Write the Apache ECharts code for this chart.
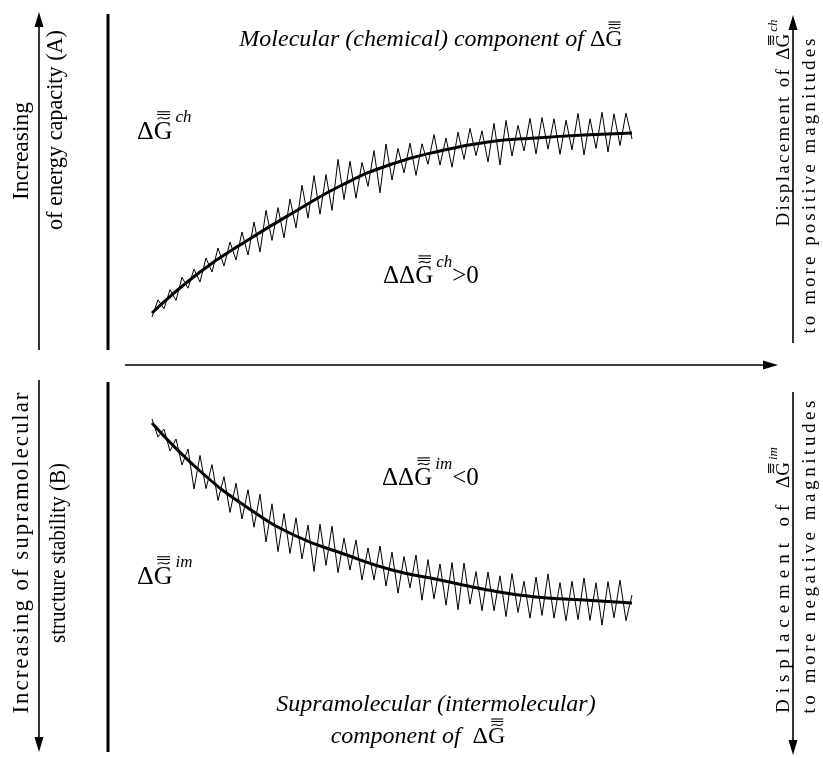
<!DOCTYPE html>
<html><head><meta charset="utf-8">
<script src="https://cdn.jsdelivr.net/npm/echarts@6/dist/echarts.min.js"></script>
<style>html,body{margin:0;padding:0;background:#fff}#c{width:823px;height:758px}</style>
</head><body><div id="c"></div>
<script>
// ---------- data ----------
const trendX = [0,10,20,30,40,50,60,70,80,90,100];
const chTrend = [3.5,24,40,54.5,68,78,84.5,89,91,92.5,93.5];
const imTrend = [-6.5,-30.5,-49,-63,-72,-80,-85,-90,-93.5,-95,-96.5];
const noiseX = [0,1.25,2.5,3.75,5,6.25,7.5,8.75,10,11.25,12.5,13.75,15,16.25,17.5,18.75,20,21.25,22.5,23.75,25,26.25,27.5,28.75,30,31.25,32.5,33.75,35,36.25,37.5,38.75,40,41.25,42.5,43.75,45,46.25,47.5,48.75,50,51.25,52.5,53.75,55,56.25,57.5,58.75,60,61.25,62.5,63.75,65,66.25,67.5,68.75,70,71.25,72.5,73.75,75,76.25,77.5,78.75,80,81.25,82.5,83.75,85,86.25,87.5,88.75,90,91.25,92.5,93.75,95,96.25,97.5,98.75,100];
const chNoise = [1.5,10.1,5.6,15.2,9.8,21.3,15.9,25.4,
 19,31,24,36,27,39,30,44,
 32.5,49,34,54.8,39.8,56.2,41.1,60.5,
 46.1,67.4,50.9,72.2,52.9,72.7,54.8,80.3,
 60.2,79.4,60.9,78.8,66.8,84.7,63.6,88,
 70,85.8,73.6,88.4,72.3,88.1,77.9,92.7,
 77.5,91,76.4,93.9,80.3,95.8,82.2,94.6,
 79,98.3,77.5,99.8,82,97.3,84.5,100.8,
 83,101.2,85.4,100.6,82.8,99.9,85.1,103.3,
 82.5,100.6,85.8,103.9,84,103.1,87.3,103.4,90.5];
const imNoise = [-4.5,-13.5,-9.5,-20.5,-14.5,-27.5,-19.5,-39.5,
 -22.7,-39.3,-27.3,-45.2,-33.3,-51.2,-36.6,-54.5,
 -39.9,-58.6,-42.1,-66,-46.9,-70.8,-51.7,-71.7,
 -53.9,-74.5,-57.5,-80.7,-57.1,-77.7,-58.1,-81.3,
 -64,-80,-65,-85,-69,-85,-68,-88,
 -71,-91.6,-73.3,-88.9,-72.5,-95.1,-74.8,-94.4,
 -77,-97.6,-76.3,-99.9,-76.5,-97.1,-80.8,-100.4,
 -81,-100.4,-82.9,-103.3,-81.8,-101.2,-85.6,-104.1,
 -83.5,-102.7,-81.9,-104.1,-86.3,-105.4,-85.6,-104.8,
 -84,-105.2,-86.4,-107.6,-85.8,-103.9,-85.1,-105.3,-92.5];

// ---------- text layout helpers ----------
const FAM = "'Liberation Serif','Times New Roman',serif";
const cx = document.createElement('canvas').getContext('2d');
function fnt(fs,it){return (it?'italic':'normal')+' normal '+fs+'px '+FAM;}
function meas(fs,it,s){cx.font=fnt(fs,it);cx.textBaseline='alphabetic';return cx.measureText(s).width;}
function met(fs,it){
  cx.font=fnt(fs,it);
  cx.textBaseline='alphabetic'; const a=cx.measureText('H').actualBoundingBoxAscent;
  cx.textBaseline='middle'; const b=cx.measureText('H').actualBoundingBoxAscent;
  cx.textBaseline='alphabetic';
  return {cap:a,k:a-b};
}
function accent(gx,top,u){
  const st={stroke:'#000',lineWidth:1.1,fill:null};
  return [
    {type:'bezierCurve',shape:{x1:gx-5.5*u,y1:top-2.4*u,cpx1:gx-2.5*u,cpy1:top-7*u,cpx2:gx+2*u,cpy2:top+0.5*u,x2:gx+5.5*u,y2:top-4.4*u},style:st},
    {type:'line',shape:{x1:gx-6*u,y1:top-6.8*u,x2:gx+6*u,y2:top-6.8*u},style:st},
    {type:'line',shape:{x1:gx-6*u,y1:top-9.3*u,x2:gx+6*u,y2:top-9.3*u},style:st}
  ];
}
function label(o){
  const base=o.base||24, supFs=o.sup||Math.round(base*0.67);
  const mm=met(base,false);
  const runs=[];
  o.pieces.forEach(p=>{
    const fs=p.sup?supFs:base, it=!!p.it, B=p.sup?-0.64*base:0;
    if(p.sp) Array.from(p.t).forEach(ch=>runs.push({t:ch,fs,it,B,sp:true}));
    else runs.push({t:p.t,fs,it,B,sp:false,acc:!!p.acc,gap:p.gap||0});
  });
  runs.forEach(r=>{r.w=meas(r.fs,r.it,r.t);});
  let W0=runs.reduce((a,r)=>a+r.w+(r.gap||0),0);
  let nsp=runs.filter(r=>r.sp).length; if(runs[runs.length-1].sp) nsp--;
  let extra=0,sx=1;
  if(o.target){ if(nsp>0) extra=(o.target-W0)/nsp; else sx=o.target/W0; }
  const kids=[]; let cur=0;
  const items=[];
  runs.forEach((r,i)=>{
    const Bl=mm.k+r.B;
    if(r.t.trim()!==''){
      const m=met(r.fs,r.it);
      items.push({x:cur,y:Bl-m.k,t:r.t,fs:r.fs,it:r.it});
      if(r.acc){
        const gw=meas(r.fs,r.it,'G');
        items.push({acc:true,gx:cur+r.w-gw/2+0.5,top:Bl-m.cap,u:r.fs/24});
      }
    }
    cur+=r.w+(r.gap||0)+((r.sp&&i<runs.length-1)?extra:0);
  });
  const off=(o.align==='left')?0:-cur/2;
  items.forEach(it=>{
    if(it.acc) accent(it.gx+off,it.top,it.u).forEach(e=>kids.push(e));
    else kids.push({type:'text',x:it.x+off,y:it.y,style:{text:it.t,font:fnt(it.fs,it.it),fill:'#000',align:'left',textAlign:'left',verticalAlign:'middle',textVerticalAlign:'middle'}});
  });
  return {type:'group',x:o.x,y:o.y,rotation:o.rot||0,scaleX:sx,z:20,children:kids};
}
function line(x1,y1,x2,y2,w){return {type:'line',z:5,shape:{x1,y1,x2,y2},style:{stroke:'#000',lineWidth:w}};}
function head(pts){return {type:'polygon',z:5,shape:{points:pts},style:{fill:'#000'}};}

const R=Math.PI/2, D='\u0394';
const graphics=[
  line(39,350,39,24,1.6), head([[39,12],[34.5,27],[43.5,27]]),
  line(39,380,39,740,1.6), head([[39,752],[34.5,737],[43.5,737]]),
  line(108,14,108,350,3), line(108,382,108,752,3),
  line(125,365,766,365,1.6), head([[778,365],[763,360.5],[763,369.5]]),
  line(793,343,793,27,1.6), head([[793,15],[788.5,30],[797.5,30]]),
  line(793,392,793,743,1.6), head([[793,755],[788.5,740],[797.5,740]]),
  // left texts
  label({x:22,y:151,rot:R,base:23,pieces:[{t:'Increasing'}],target:98}),
  label({x:56,y:130,rot:R,base:23,pieces:[{t:'of energy capacity (A)'}],target:200}),
  label({x:22,y:553,rot:R,base:23,pieces:[{t:'Increasing of supramolecular',sp:true}],target:321}),
  label({x:59,y:553,rot:R,base:23,pieces:[{t:'structure stability (B)'}],target:180}),
  // right texts
  label({x:784,y:123,rot:R,base:19,sup:13,pieces:[{t:'Displacement of ',sp:true},{t:D+'G',acc:true,gap:2},{t:'ch',it:true,sup:true}],target:207}),
  label({x:810,y:186,rot:R,base:19,pieces:[{t:'to more positive magnitudes',sp:true}],target:295}),
  label({x:784,y:580,rot:R,base:19,sup:13,pieces:[{t:'Displacement of ',sp:true},{t:D+'G',acc:true,gap:2},{t:'im',it:true,sup:true}],target:266}),
  label({x:810,y:557,rot:R,base:19,pieces:[{t:'to more negative magnitudes',sp:true}],target:313}),
  // titles
  label({x:431,y:40,base:24,pieces:[{t:'Molecular (chemical) component of ',it:true},{t:D+'G',acc:true}]}),
  label({x:436,y:705,base:24,pieces:[{t:'Supramolecular (intermolecular)',it:true}]}),
  label({x:418,y:737,base:24,pieces:[{t:'component of  ',it:true},{t:D+'G',acc:true}]}),
  // curve labels
  label({x:137,y:132,align:'left',base:26,sup:17,pieces:[{t:D+'G',acc:true,gap:3},{t:'ch',it:true,sup:true}]}),
  label({x:383,y:276,align:'left',base:25,sup:17,pieces:[{t:D+D+'G',acc:true,gap:3},{t:'ch',it:true,sup:true},{t:'>0'}]}),
  label({x:382,y:478,align:'left',base:25,sup:17,pieces:[{t:D+D+'G',acc:true,gap:3},{t:'im',it:true,sup:true},{t:'<0'}]}),
  label({x:137,y:577,align:'left',base:26,sup:17,pieces:[{t:D+'G',acc:true,gap:3},{t:'im',it:true,sup:true}]})
];

const pairs=(xs,ys)=>xs.map((x,i)=>[x,ys[i]]);
const chart=echarts.init(document.getElementById('c'));
chart.setOption({
  animation:false,
  backgroundColor:'#fff',
  grid:[{left:152,width:480,top:100,height:220},{left:152,width:480,top:410,height:220}],
  xAxis:[{type:'value',gridIndex:0,min:0,max:100,show:false},{type:'value',gridIndex:1,min:0,max:100,show:false}],
  yAxis:[{type:'value',gridIndex:0,min:0,max:110,show:false},{type:'value',gridIndex:1,min:-110,max:0,show:false}],
  series:[
    {type:'line',xAxisIndex:0,yAxisIndex:0,data:pairs(noiseX,chNoise),showSymbol:false,lineStyle:{color:'#000',width:1},z:2},
    {type:'line',xAxisIndex:0,yAxisIndex:0,data:pairs(trendX,chTrend),smooth:0.5,showSymbol:false,lineStyle:{color:'#000',width:3},z:3},
    {type:'line',xAxisIndex:1,yAxisIndex:1,data:pairs(noiseX,imNoise),showSymbol:false,lineStyle:{color:'#000',width:1},z:2},
    {type:'line',xAxisIndex:1,yAxisIndex:1,data:pairs(trendX,imTrend),smooth:0.5,showSymbol:false,lineStyle:{color:'#000',width:3},z:3}
  ],
  graphic:{elements:graphics}
});
</script></body></html>
